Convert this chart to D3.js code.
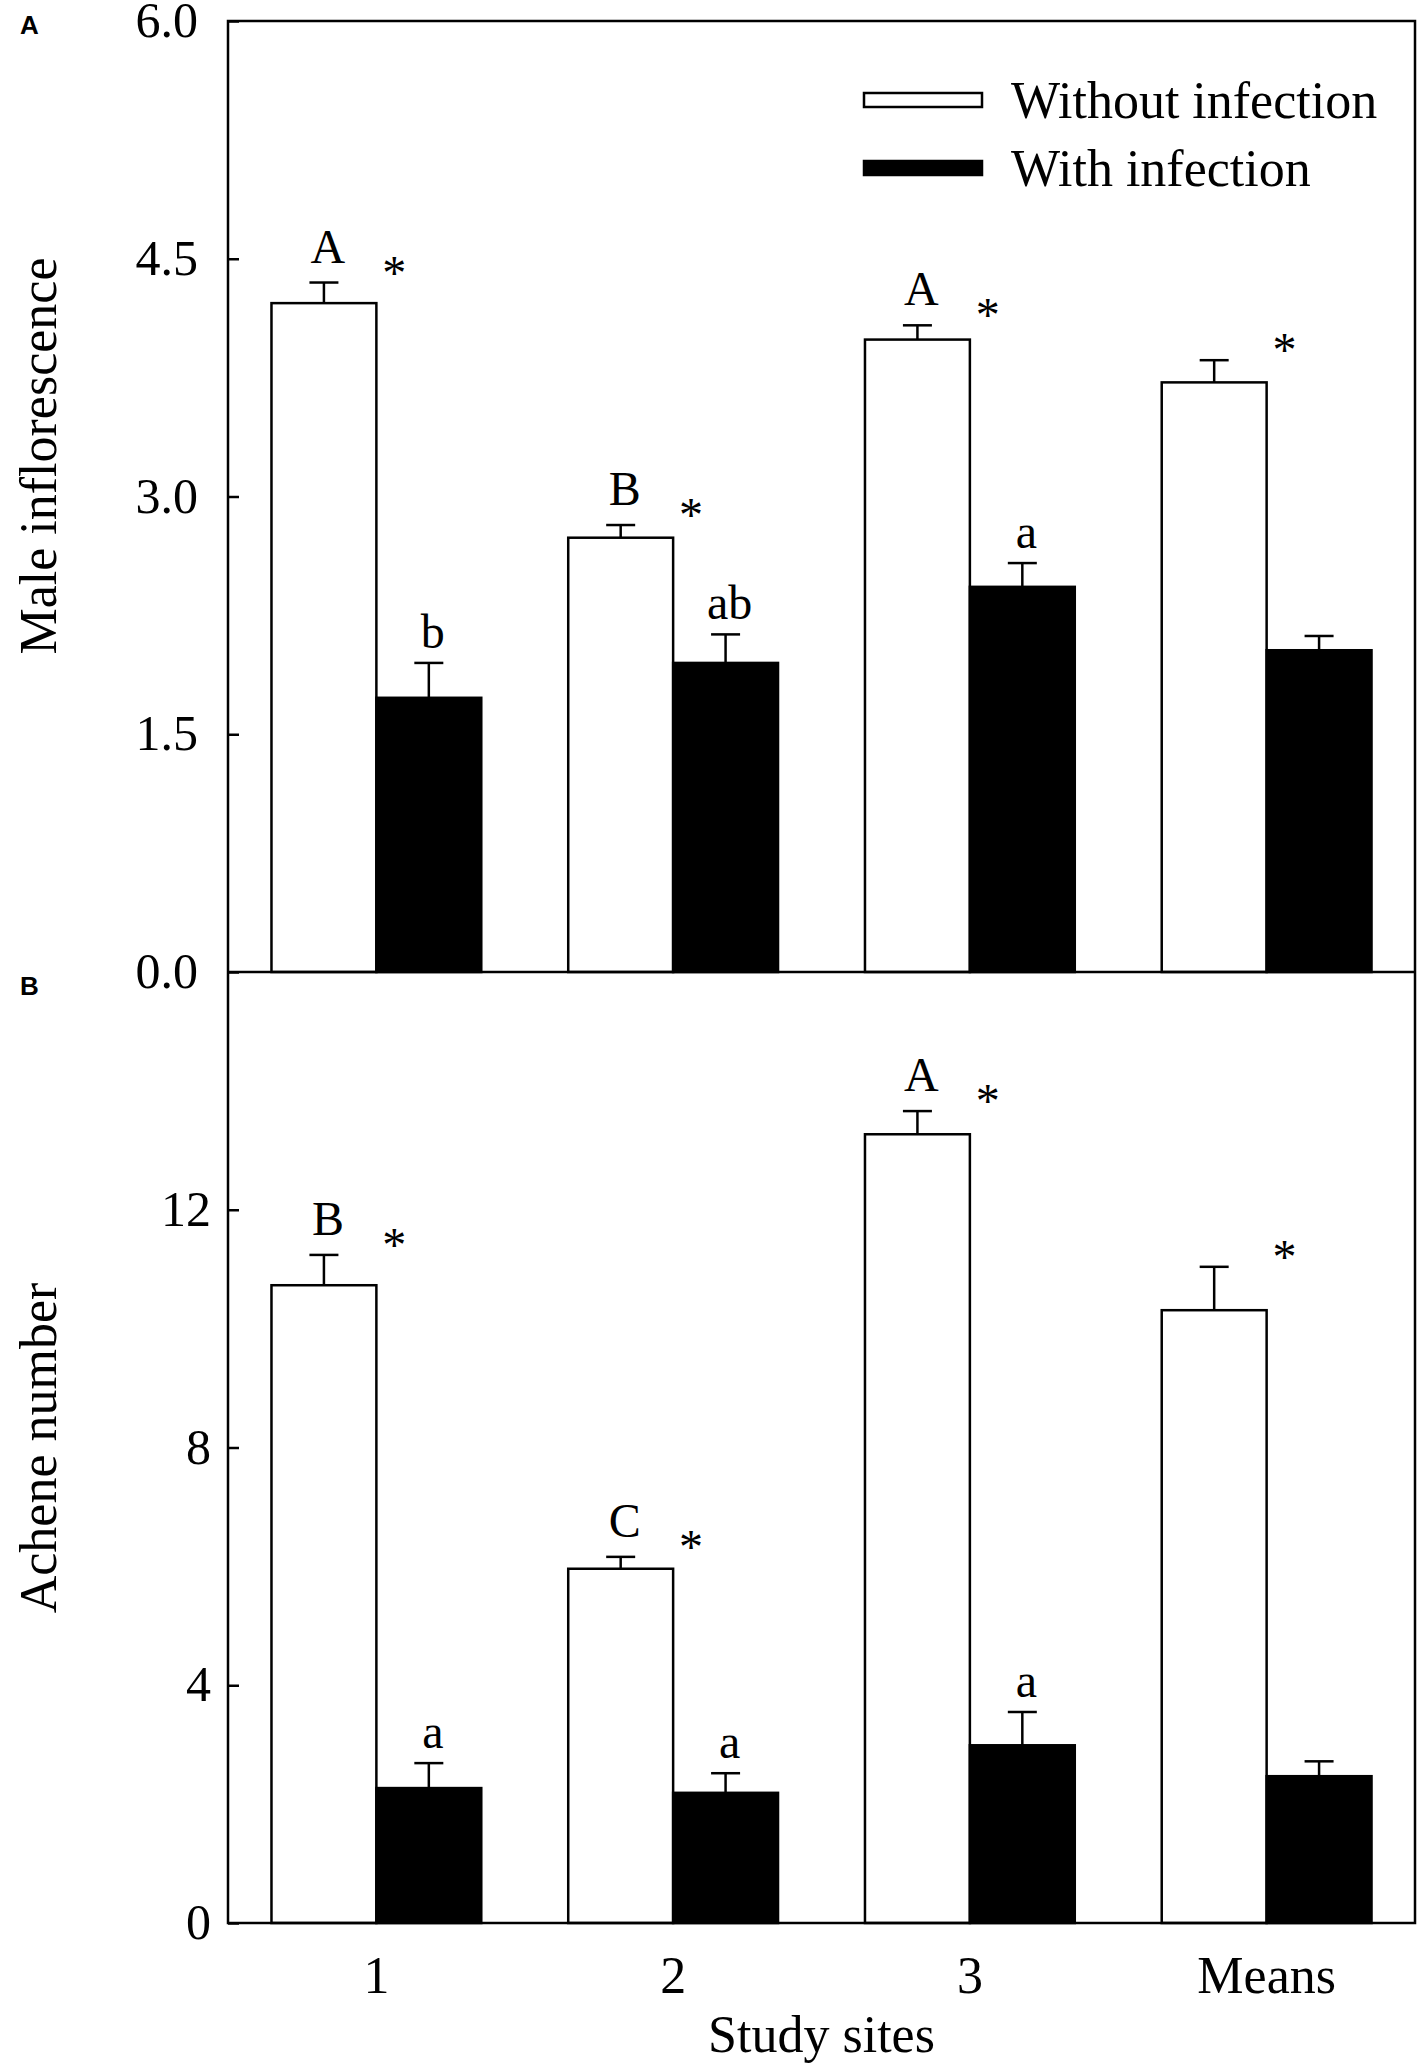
<!DOCTYPE html>
<html>
<head>
<meta charset="utf-8">
<script src="https://cdn.jsdelivr.net/npm/d3@7"></script>
<style>
  body { margin: 0; background: #fff; }
  text { font-family: "Liberation Serif", "Times New Roman", serif; fill: #000; }
</style>
</head>
<body>
<div id="chart"></div>
<script>
// Study sites and series
const sites = ["1", "2", "3", "Means"];
const seriesNames = ["Without infection", "With infection"];

// Panel A: male inflorescence (mean and SE)
const maleWithout = [4.22, 2.74, 3.99, 3.72];
const maleWithoutSE = [0.13, 0.08, 0.09, 0.14];
const maleWith = [1.73, 1.95, 2.43, 2.03];
const maleWithSE = [0.22, 0.18, 0.15, 0.09];
const maleLettersWithout = ["A", "B", "A", ""];
const maleLettersWith = ["b", "ab", "a", ""];
const maleTicks = [0, 1.5, 3.0, 4.5, 6.0];

// Panel B: achene number (mean and SE)
const acheneWithout = [10.73, 5.96, 13.27, 10.31];
const acheneWithoutSE = [0.51, 0.2, 0.39, 0.73];
const acheneWith = [2.27, 2.19, 2.99, 2.47];
const acheneWithSE = [0.42, 0.33, 0.56, 0.25];
const acheneLettersWithout = ["B", "C", "A", ""];
const acheneLettersWith = ["a", "a", "a", ""];
const acheneTicks = [0, 4, 8, 12];

const width = 1417, height = 2067;
const left = 228, right = 1415;

const svg = d3.select("#chart")
  .append("svg")
  .attr("width", width)
  .attr("height", height);

// Shared x scales
const x = d3.scaleBand()
  .domain(sites)
  .range([left, right])
  .paddingInner(0.293)
  .paddingOuter(0.1465);

const xs = d3.scaleBand()
  .domain(seriesNames)
  .range([0, x.bandwidth()]);

const fills = ["#fff", "#000"];

function drawPanel(opts) {
  const y = d3.scaleLinear().domain(opts.domain).range([opts.bottom, opts.top]);
  const g = svg.append("g");

  const rows = sites.map((s, i) => ({
    site: s,
    vals: [
      { key: seriesNames[0], v: opts.without[i], se: opts.withoutSE[i], lab: opts.lettersWithout[i] },
      { key: seriesNames[1], v: opts.with[i], se: opts.withSE[i], lab: opts.lettersWith[i] }
    ]
  }));

  // Bars
  const grp = g.selectAll(".grp")
    .data(rows)
    .enter()
    .append("g")
    .attr("transform", (d) => `translate(${x(d.site)},0)`);

  grp.selectAll("rect")
    .data((d) => d.vals)
    .enter()
    .append("rect")
    .attr("x", (d) => xs(d.key))
    .attr("width", xs.bandwidth())
    .attr("y", (d) => y(d.v))
    .attr("height", (d) => y(0) - y(d.v))
    .attr("fill", (d, i) => fills[i])
    .attr("stroke", "#000")
    .attr("stroke-width", 2.5);

  // Error bars (upper only)
  const cap = 29;
  const eb = grp.selectAll(".eb")
    .data((d) => d.vals)
    .enter()
    .append("g");
  eb.append("line")
    .attr("x1", (d) => xs(d.key) + xs.bandwidth() / 2)
    .attr("x2", (d) => xs(d.key) + xs.bandwidth() / 2)
    .attr("y1", (d) => y(d.v))
    .attr("y2", (d) => y(d.v + d.se))
    .attr("stroke", "#000")
    .attr("stroke-width", 2.5);
  eb.append("line")
    .attr("x1", (d) => xs(d.key) + xs.bandwidth() / 2 - cap / 2)
    .attr("x2", (d) => xs(d.key) + xs.bandwidth() / 2 + cap / 2)
    .attr("y1", (d) => y(d.v + d.se))
    .attr("y2", (d) => y(d.v + d.se))
    .attr("stroke", "#000")
    .attr("stroke-width", 2.5);

  // Letters above error bars
  eb.append("text")
    .attr("x", (d) => xs(d.key) + xs.bandwidth() / 2 + 4)
    .attr("y", (d) => y(d.v + d.se) - (d.lab === d.lab.toUpperCase() ? 20 : 15))
    .attr("text-anchor", "middle")
    .style("font-size", "48px")
    .text((d) => d.lab);

  // Asterisks between paired bars
  grp.append("text")
    .attr("x", xs(seriesNames[1]) + 18)
    .attr("y", (d) => y(d.vals[0].v + d.vals[0].se) + 6)
    .attr("text-anchor", "middle")
    .style("font-size", "48px")
    .text("*");

  // Y axis (ticks inward)
  const yAxis = d3.axisRight(y)
    .tickValues(opts.ticks)
    .tickSize(11)
    .tickFormat(() => "");
  g.append("g")
    .attr("transform", `translate(${left},0)`)
    .call(yAxis)
    .call((a) => a.select(".domain").remove())
    .call((a) => a.selectAll("line").attr("stroke-width", 2.5));

  g.selectAll(".ylab")
    .data(opts.ticks)
    .enter()
    .append("text")
    .attr("x", opts.labelX)
    .attr("y", (d) => y(d) + 16)
    .attr("text-anchor", "end")
    .style("font-size", "50px")
    .text(opts.fmt);

  // Y title
  g.append("text")
    .attr("transform", `translate(56,${opts.titleY}) rotate(-90)`)
    .attr("text-anchor", "middle")
    .style("font-size", "52px")
    .text(opts.title);

  // Panel letter
  g.append("text")
    .attr("x", 20)
    .attr("y", opts.letterY)
    .style("font-family", "'Liberation Sans', Arial, sans-serif")
    .style("font-weight", "bold")
    .style("font-size", "26px")
    .text(opts.letter);

  return y;
}

const yA = drawPanel({
  top: 21, bottom: 972, domain: [0, 6],
  without: maleWithout, withoutSE: maleWithoutSE,
  with: maleWith, withSE: maleWithSE,
  lettersWithout: maleLettersWithout, lettersWith: maleLettersWith,
  ticks: maleTicks, fmt: d3.format(".1f"), labelX: 198,
  title: "Male inflorescence", titleY: 456, letter: "A", letterY: 34
});

const yB = drawPanel({
  top: 972, bottom: 1923, domain: [0, 16],
  without: acheneWithout, withoutSE: acheneWithoutSE,
  with: acheneWith, withSE: acheneWithSE,
  lettersWithout: acheneLettersWithout, lettersWith: acheneLettersWith,
  ticks: acheneTicks, fmt: d3.format("d"), labelX: 211,
  title: "Achene number", titleY: 1448, letter: "B", letterY: 995
});

// Frame around both panels
svg.append("rect")
  .attr("x", left)
  .attr("y", 21)
  .attr("width", right - left)
  .attr("height", 1923 - 21)
  .attr("fill", "none")
  .attr("stroke", "#000")
  .attr("stroke-width", 2.5);
svg.append("line")
  .attr("x1", left).attr("x2", right)
  .attr("y1", yA(0)).attr("y2", yA(0))
  .attr("stroke", "#000")
  .attr("stroke-width", 2.5);

// X axis labels
svg.append("g")
  .attr("transform", `translate(0,${yB(0)})`)
  .call(d3.axisBottom(x).tickSize(0).tickPadding(0))
  .call((a) => a.select(".domain").remove())
  .selectAll("text")
  .attr("y", 70)
  .attr("dy", null)
  .style("font-family", "'Liberation Serif', 'Times New Roman', serif")
  .style("font-size", "52px");

svg.append("text")
  .attr("x", (left + right) / 2)
  .attr("y", 2052)
  .attr("text-anchor", "middle")
  .style("font-size", "52px")
  .text("Study sites");

// Legend
const legend = svg.append("g");
const legendY = [100, 168];
legend.selectAll("rect")
  .data(seriesNames)
  .enter()
  .append("rect")
  .attr("x", 864)
  .attr("y", (d, i) => legendY[i] - 7)
  .attr("width", 118)
  .attr("height", 14)
  .attr("fill", (d, i) => fills[i])
  .attr("stroke", "#000")
  .attr("stroke-width", 2.5);
legend.selectAll("text")
  .data(seriesNames)
  .enter()
  .append("text")
  .attr("x", 1011)
  .attr("y", (d, i) => legendY[i] + 18)
  .style("font-size", "52px")
  .text((d) => d);
</script>
</body>
</html>
